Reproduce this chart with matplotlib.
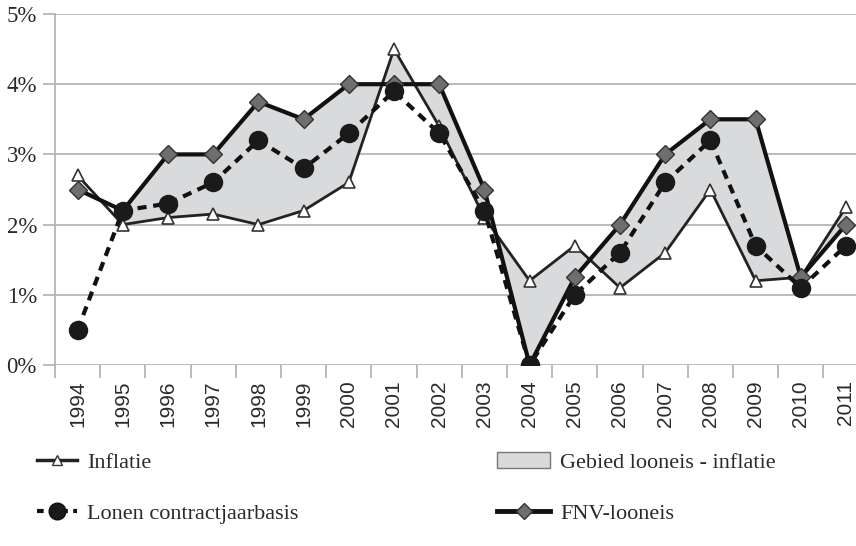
import numpy as np
import matplotlib
matplotlib.use("Agg")
import matplotlib.pyplot as plt
from matplotlib.lines import Line2D
from matplotlib.patches import Patch
from matplotlib.ticker import FixedLocator, FuncFormatter

# Data (percentages)
years = list(range(1994, 2012))
inflatie = [2.7, 2.0, 2.1, 2.15, 2.0, 2.2, 2.6, 4.5, 3.4, 2.1, 1.2, 1.7, 1.1, 1.6, 2.5, 1.2, 1.25, 2.25]
lonen = [0.5, 2.2, 2.3, 2.6, 3.2, 2.8, 3.3, 3.9, 3.3, 2.2, 0.0, 1.0, 1.6, 2.6, 3.2, 1.7, 1.1, 1.7]
fnv = [2.5, 2.2, 3.0, 3.0, 3.75, 3.5, 4.0, 4.0, 4.0, 2.5, 0.0, 1.25, 2.0, 3.0, 3.5, 3.5, 1.25, 2.0]

serif = "Liberation Serif"
grid_col = "#b4b4bc"
text_col = "#2a2a2a"

fig = plt.figure(figsize=(8.56, 5.46), dpi=100)
ax = fig.add_axes([55 / 856, 181 / 546, 813.6 / 856, 351 / 546])

x = np.arange(len(years))

# shaded area between inflation and FNV wage demand (from 1995)
ax.fill_between(x[1:], inflatie[1:], fnv[1:], color="#d9dadc", lw=0, zorder=1)

ax.plot(x, inflatie, color="#222222", lw=2, marker="^", ms=9,
        mfc="white", mec="#333333", mew=1.2, zorder=3)
ax.plot(x, fnv, color="#111111", lw=3, marker="D", ms=9,
        mfc="#6e6e6e", mec="#333333", mew=1, zorder=4)
ax.plot(x, lonen, color="#111111", lw=3, ls=(0, (2.2, 1.6)), marker="o", ms=13,
        mfc="#1a1a1a", mec="#1a1a1a", zorder=5)

ax.set_xlim(-0.5, len(years) - 0.5)
ax.set_ylim(0, 5)

ax.set_yticks(range(0, 6))
ax.yaxis.set_major_formatter(FuncFormatter(lambda v, _: f"{int(v)}%"))
ax.grid(axis="y", color=grid_col, lw=1.3)
ax.set_axisbelow(True)

ax.set_xticks(x)
ax.set_xticklabels([str(y) for y in years], rotation=90, family="Liberation Sans",
                   fontsize=15, color=text_col)
ax.xaxis.set_minor_locator(FixedLocator(np.arange(-0.5, len(years), 1)))
ax.tick_params(axis="x", which="major", length=0, pad=11)
ax.tick_params(axis="x", which="minor", length=9, color=grid_col, width=1.3)
ax.tick_params(axis="y", length=9, color=grid_col, width=1.3, pad=4)
for lab in ax.get_yticklabels():
    lab.set_family(serif)
    lab.set_fontsize(16.5)
    lab.set_color(text_col)

for s in ["top", "right", "bottom"]:
    ax.spines[s].set_visible(False)
ax.spines["left"].set_color(grid_col)
ax.spines["left"].set_linewidth(1.3)

# legend
h_infl = Line2D([], [], color="#222222", lw=2.5, marker="^", ms=7, mfc="white", mec="#333333")
h_lonen = Line2D([], [], color="#111111", lw=3, ls=(0, (1.6, 1.3)), marker="o", ms=12, mfc="#1a1a1a")
h_area = Patch(facecolor="#d9dadc", edgecolor="#777777", lw=1)
h_fnv = Line2D([], [], color="#111111", lw=3.5, marker="D", ms=8, mfc="#6e6e6e", mec="#333333")

leg_kw = dict(frameon=False, prop={"family": serif, "size": 16}, handlelength=1.8,
              handletextpad=0.45, labelspacing=1.4, borderaxespad=0, borderpad=0,
              labelcolor=text_col)
fig.legend([h_infl, h_lonen], ["Inflatie", "Lonen contractjaarbasis"],
           loc="upper left", bbox_to_anchor=(37 / 856, 1 - 452 / 546), **leg_kw)
fig.legend([h_area, h_fnv], ["Gebied looneis - inflatie", "FNV-looneis"],
           loc="upper left", bbox_to_anchor=(497 / 856, 1 - 452 / 546),
           **{**leg_kw, "handlelength": 2.4})

fig.savefig("out.png", dpi=100)
